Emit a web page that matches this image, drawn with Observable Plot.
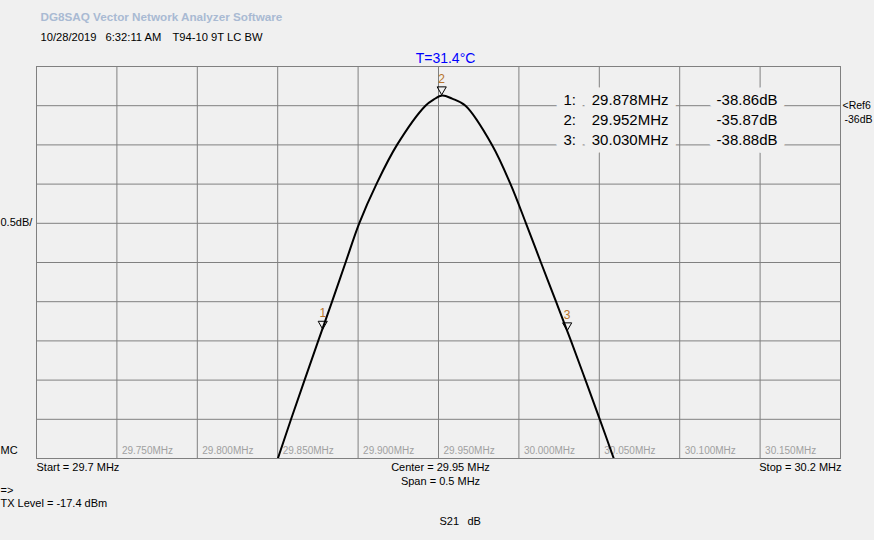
<!DOCTYPE html>
<html>
<head>
<meta charset="utf-8">
<script src="https://cdn.jsdelivr.net/npm/d3@7"></script>
<script src="https://cdn.jsdelivr.net/npm/@observablehq/plot@0.6"></script>
<style>
  html, body { margin: 0; padding: 0; background: #f0f0f0; }
  #chart svg { display: block; }
</style>
</head>
<body>
<div id="chart"></div>
<script>
// ---- data ----
const freqMHz = [29.8501, 29.8583, 29.8667, 29.8752, 29.8838, 29.8922, 29.9007, 29.9114, 29.9242,
  29.9419, 29.9471, 29.9523, 29.9585, 29.9668, 29.9833, 29.9948, 30.0044, 30.0137,
  30.0231, 30.0324, 30.0414, 30.0503, 30.0590];
const s21dB = [-40.5, -40.0, -39.5, -39.0, -38.5, -38.0, -37.5, -37.0, -36.5,
  -36.0, -35.92, -35.87, -35.91, -36.0, -36.5, -37.0, -37.5, -38.0,
  -38.5, -39.0, -39.5, -40.0, -40.5];

const markerNames = ["1", "2", "3"];
const markerFreq = [29.878, 29.952, 30.030];
const markerDb = [-38.86, -35.87, -38.88];
const markerFreqText = ["29.878MHz", "29.952MHz", "30.030MHz"];
const markerDbText = ["-38.86dB", "-35.87dB", "-38.88dB"];

const xTicks = [29.75, 29.80, 29.85, 29.90, 29.95, 30.00, 30.05, 30.10, 30.15];
const xTickLabels = ["29.750MHz", "29.800MHz", "29.850MHz", "29.900MHz", "29.950MHz", "30.000MHz", "30.050MHz", "30.100MHz", "30.150MHz"];
const yTicks = [-40.0, -39.5, -39.0, -38.5, -38.0, -37.5, -37.0, -36.5, -36.0];
const xDomain = [29.7, 30.2];
const yDomain = [-40.5, -35.5];
const refLevel = -36;
const scaleDiv = -37.5;

const titleText = "DG8SAQ Vector Network Analyzer Software";
const dateText = "10/28/2019";
const timeText = "6:32:11 AM";
const nameText = "T94-10 9T LC BW";
const tempText = "T=31.4°C";

// ---- build ----
const trace = freqMHz.map((f, i) => ({f, db: s21dB[i]}));
const markers = markerNames.map((n, i) => ({n, f: markerFreq[i], db: markerDb[i]}));
const ticks = xTicks.map((v, i) => ({v, label: xTickLabels[i]}));
const rows = markerNames.map((n, i) => ({n: n + ":", ft: markerFreqText[i], dt: markerDbText[i]}));

const GRID = "#808080";
const BG = "#f0f0f0";
const FONT = "Liberation Sans, Arial, sans-serif";

const tableMarks = [];
const rowMark = (r, i, halo) => {
  const dy = 33.5 + 20 * i;
  const common = {frameAnchor: "top-left", dy, fontSize: 15, lineAnchor: "middle"};
  const paint = halo ? {fill: BG, stroke: BG, strokeWidth: 16} : {fill: "#000"};
  return [
    Plot.text([r], {...common, ...paint, text: "n", dx: 527, textAnchor: "start"}),
    Plot.text([r], {...common, ...paint, text: "ft", dx: 632, textAnchor: "end"}),
    Plot.text([r], {...common, ...paint, text: "dt", dx: 741, textAnchor: "end"})
  ];
};
rows.forEach((r, i) => tableMarks.push(...rowMark(r, i, true)));
rows.forEach((r, i) => tableMarks.push(...rowMark(r, i, false)));

const plot = Plot.plot({
  width: 874,
  height: 540,
  marginLeft: 36,
  marginRight: 34,
  marginTop: 66,
  marginBottom: 82,
  style: {background: BG, fontFamily: FONT, color: "#000", overflow: "visible"},
  x: {domain: xDomain, axis: null},
  y: {domain: yDomain, axis: null},
  marks: [
    Plot.ruleX(xTicks, {stroke: GRID, strokeWidth: 1}),
    Plot.ruleY(yTicks, {stroke: GRID, strokeWidth: 1}),
    Plot.frame({stroke: GRID, strokeWidth: 1}),
    Plot.text(ticks, {x: "v", text: "label", frameAnchor: "bottom", textAnchor: "start", dx: 5, dy: -5, fill: "#a0a0a0", fontSize: 10}),
    ...tableMarks,
    Plot.line(trace, {x: "f", y: "db", stroke: "#000", strokeWidth: 2, curve: "catmull-rom", clip: true}),
    Plot.dot(markers, {x: "f", y: "db", symbol: "triangle", rotate: 180, r: 3.4, stroke: "#000", strokeWidth: 1, fill: "none", dy: -6}),
    Plot.text(markers, {x: "f", y: "db", text: "n", dy: -16.5, fontSize: 12, fill: "#b8742c"}),
    // header texts
    Plot.text([titleText], {frameAnchor: "top-left", dx: 4, dy: -53.5, textAnchor: "start", fontSize: 11.7, fontWeight: "bold", fill: "#a9bad3"}),
    Plot.text([dateText], {frameAnchor: "top-left", dx: 4, dy: -33, textAnchor: "start", fontSize: 11.2}),
    Plot.text([timeText], {frameAnchor: "top-left", dx: 69, dy: -33, textAnchor: "start", fontSize: 11.2}),
    Plot.text([nameText], {frameAnchor: "top-left", dx: 136, dy: -33, textAnchor: "start", fontSize: 11.2}),
    Plot.text([tempText], {frameAnchor: "top", dx: 7, dy: -13, fontSize: 14, fill: "#0000ff"}),
    // side labels
    Plot.text(["<Ref6"], {y: [refLevel], frameAnchor: "right", dx: 2, textAnchor: "start", fontSize: 10.5}),
    Plot.text(["-36dB"], {y: [refLevel], frameAnchor: "right", dx: 4, dy: 14, textAnchor: "start", fontSize: 10.5}),
    Plot.text(["0.5dB/"], {y: [scaleDiv], frameAnchor: "left", dx: -36, dy: -1, textAnchor: "start", fontSize: 11}),
    Plot.text(["MC"], {frameAnchor: "bottom-left", dx: -36, dy: -4.5, textAnchor: "start", fontSize: 11}),
    // footer texts
    Plot.text(["Start = 29.7 MHz"], {frameAnchor: "bottom-left", dx: 0, dy: 12, textAnchor: "start", fontSize: 11}),
    Plot.text(["Center = 29.95 MHz"], {frameAnchor: "bottom", dx: 2, dy: 12, fontSize: 11}),
    Plot.text(["Span = 0.5 MHz"], {frameAnchor: "bottom", dx: 2, dy: 26, fontSize: 11}),
    Plot.text(["Stop = 30.2 MHz"], {frameAnchor: "bottom-right", dx: 1, dy: 12, textAnchor: "end", fontSize: 11}),
    Plot.text(["=>"], {frameAnchor: "bottom-left", dx: -36, dy: 35.5, textAnchor: "start", fontSize: 11}),
    Plot.text(["TX Level = -17.4 dBm"], {frameAnchor: "bottom-left", dx: -36, dy: 48.5, textAnchor: "start", fontSize: 11}),
    Plot.text(["S21"], {frameAnchor: "bottom", dx: 1, dy: 66.5, textAnchor: "start", fontSize: 11}),
    Plot.text(["dB"], {frameAnchor: "bottom", dx: 29, dy: 66.5, textAnchor: "start", fontSize: 11})
  ]
});
document.getElementById("chart").appendChild(plot);
</script>
</body>
</html>
